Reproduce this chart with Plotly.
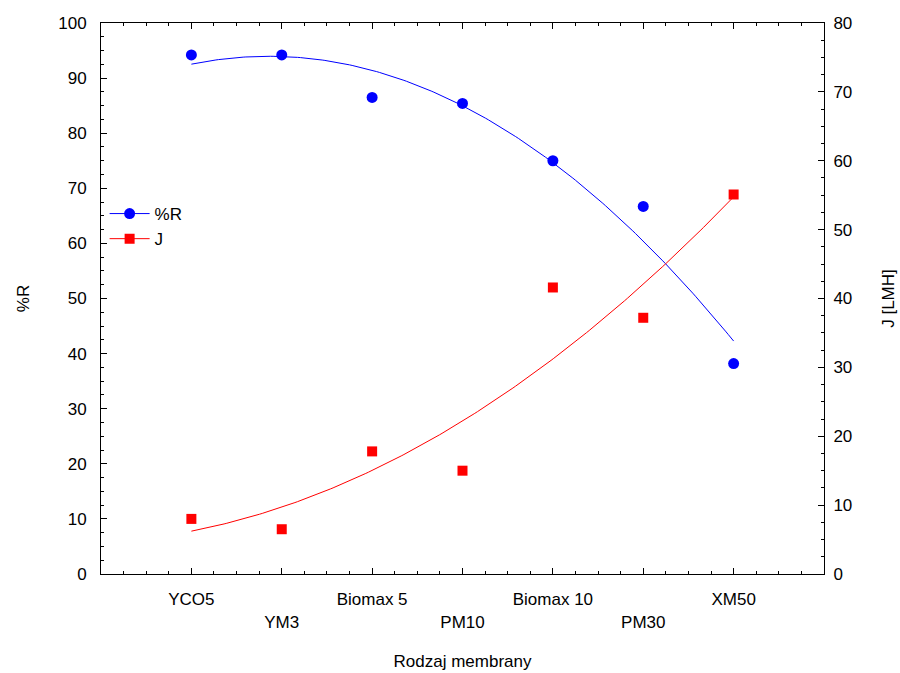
import numpy as np
import plotly.graph_objects as go

categories = ["YCO5", "YM3", "Biomax 5", "PM10", "Biomax 10", "PM30", "XM50"]
r_values = [94.2, 94.2, 86.5, 85.4, 75.0, 66.7, 38.2]
j_values = [8.0, 6.5, 17.8, 15.0, 41.6, 37.2, 55.1]
left_ticks = list(range(0, 101, 10))
right_ticks = list(range(0, 81, 10))

xi = np.arange(len(categories))
xs = np.linspace(0, len(categories) - 1, 200)
r_fit = np.polyval(np.polyfit(xi, r_values, 2), xs)
j_fit = np.polyval(np.polyfit(xi, j_values, 2), xs)

ticktext = [c if i % 2 == 0 else "<br>" + c for i, c in enumerate(categories)]

blue = "#0000FF"
red = "#FF0000"
font = "Liberation Sans, Arial, sans-serif"
fs = 17

fig = go.Figure()
fig.add_trace(go.Scatter(x=xs, y=r_fit, mode="lines", line=dict(color=blue, width=1),
                         showlegend=False, hoverinfo="skip"))
fig.add_trace(go.Scatter(x=xi, y=r_values, mode="markers",
                         marker=dict(color=blue, size=11, symbol="circle"), showlegend=False))
fig.add_trace(go.Scatter(x=xs, y=j_fit, mode="lines", line=dict(color=red, width=1),
                         showlegend=False, hoverinfo="skip", yaxis="y2"))
fig.add_trace(go.Scatter(x=xi, y=j_values, mode="markers",
                         marker=dict(color=red, size=10, symbol="square"), showlegend=False,
                         yaxis="y2"))
# legend entries
fig.add_trace(go.Scatter(x=[None], y=[None], mode="lines+markers", name="%R",
                         line=dict(color=blue, width=1),
                         marker=dict(color=blue, size=11, symbol="circle")))
fig.add_trace(go.Scatter(x=[None], y=[None], mode="lines+markers", name="J",
                         line=dict(color=red, width=1),
                         marker=dict(color=red, size=10, symbol="square"), yaxis="y2"))

axis_common = dict(showgrid=False, zeroline=False, showline=True, linecolor="black",
                   linewidth=1, ticks="inside", ticklen=6, tickcolor="black",
                   automargin=False,
                   tickfont=dict(size=fs, color="black", family=font))

fig.update_layout(
    width=900, height=673,
    margin=dict(l=101, r=76, t=23, b=99),
    plot_bgcolor="white", paper_bgcolor="white",
    font=dict(family=font, color="black", size=fs),
    xaxis=dict(**axis_common, range=[-1, 7], tickmode="array", tickvals=list(xi),
               ticktext=ticktext, mirror="ticks", ticklabelstandoff=10,
               minor=dict(ticks="inside", ticklen=3, dtick=0.25, tick0=0, tickcolor="black"),
               title=dict(text="Rodzaj membrany", font=dict(size=fs), standoff=24)),
    yaxis=dict(**axis_common, range=[0, 100], tickvals=left_ticks, ticklabelstandoff=10,
               minor=dict(ticks="inside", ticklen=3, dtick=2.5, tickcolor="black"),
               title=dict(text="%R", font=dict(size=fs), standoff=24)),
    yaxis2=dict(**axis_common, range=[0, 80], tickvals=right_ticks, overlaying="y",
                side="right", ticklabelstandoff=5,
                minor=dict(ticks="inside", ticklen=3, dtick=2.5, tickcolor="black"),
                title=dict(text="J [LMH]", font=dict(size=fs), standoff=30)),
    legend=dict(x=0.005, y=0.686, xanchor="left", yanchor="top", bgcolor="rgba(0,0,0,0)",
                font=dict(size=fs), tracegroupgap=0, itemwidth=40),
)

fig.write_html("out.html")
